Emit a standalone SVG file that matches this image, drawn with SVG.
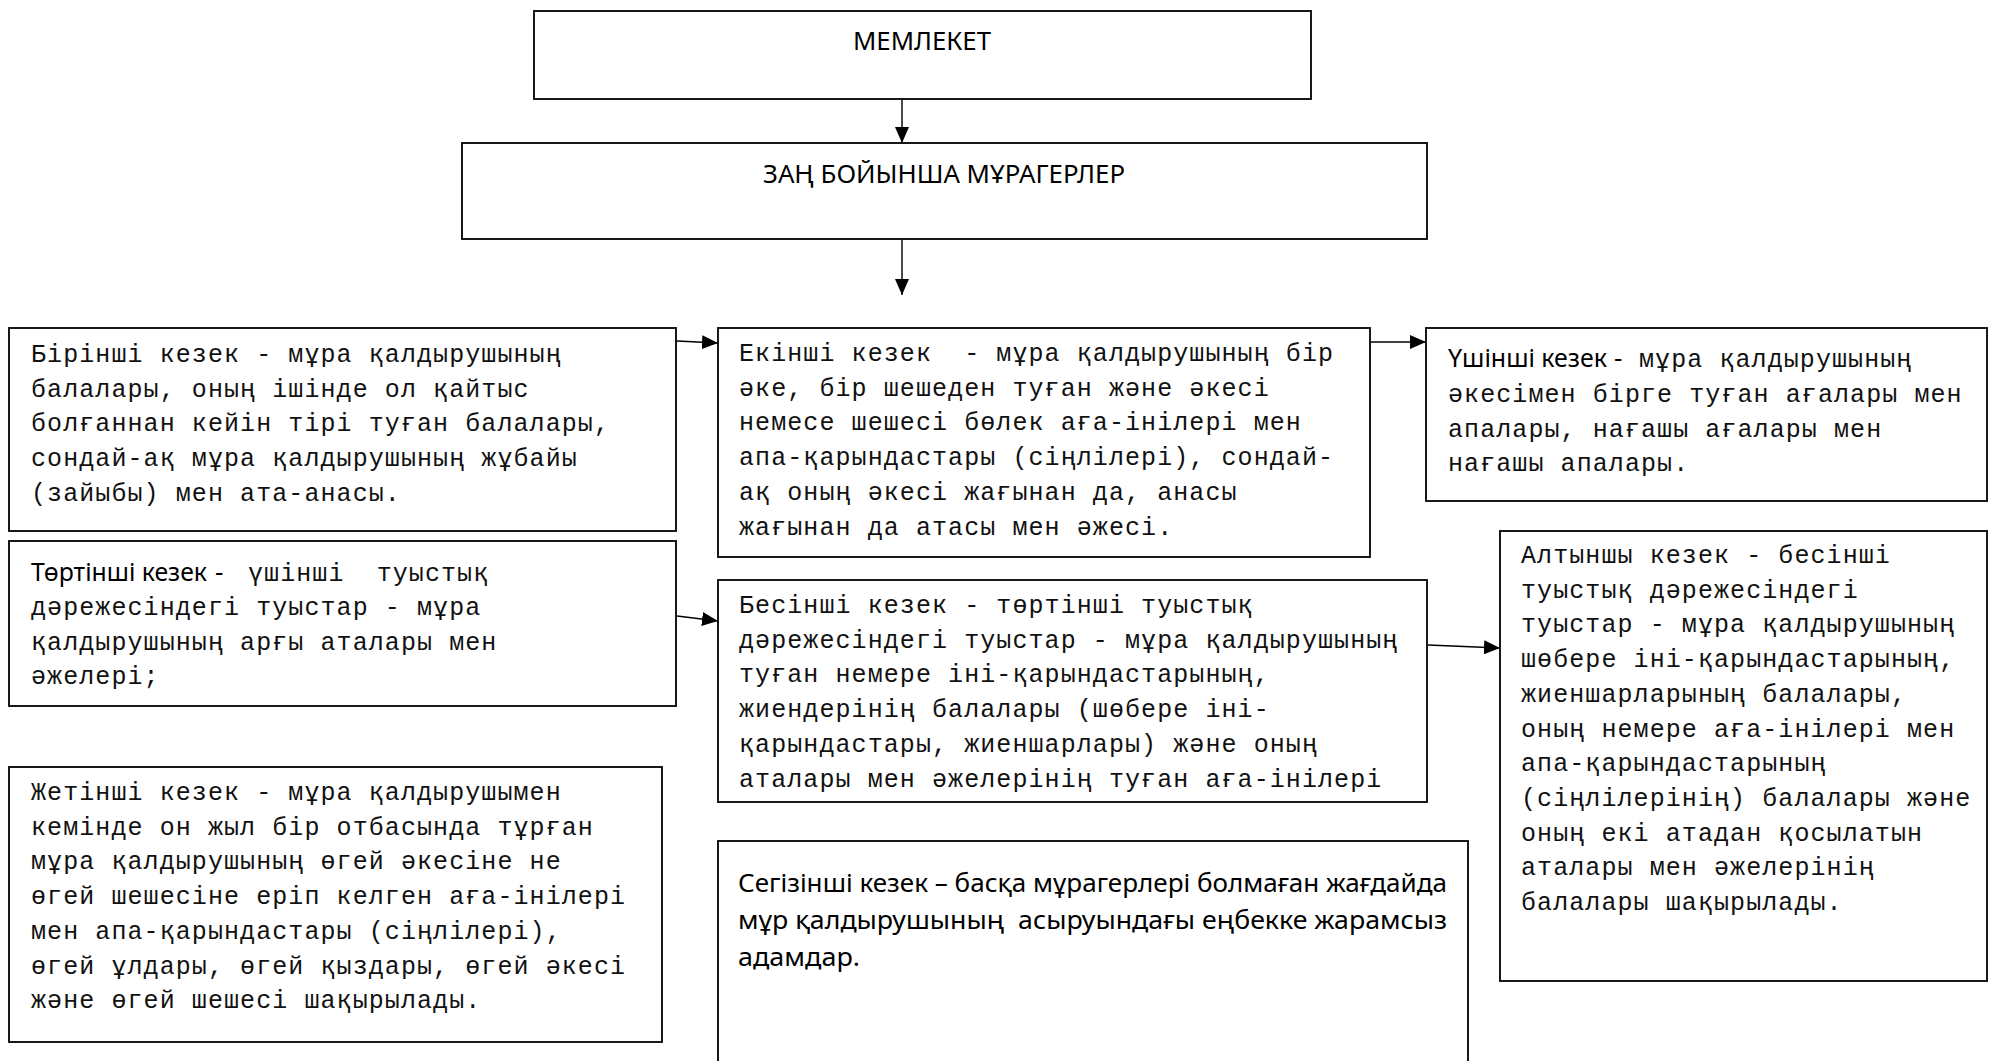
<svg xmlns="http://www.w3.org/2000/svg" width="1989" height="1061" viewBox="0 0 1989 1061">
<style>
.box{fill:#fff;stroke:#000;stroke-width:1.8}
.mono{font-family:"Liberation Mono","Courier New","DejaVu Sans Mono",monospace;font-size:25px;letter-spacing:1.08px;fill:#111}
.sans{font-family:"Noto Sans","Open Sans","DejaVu Sans",sans-serif;font-size:26px;fill:#000}
.conn{stroke:#000;stroke-width:1.4;fill:none}
</style>
<defs>
<marker id="ah" markerUnits="userSpaceOnUse" markerWidth="17" markerHeight="15" refX="16" refY="7" orient="auto">
<path d="M0,0 L16,7 L0,14 Z" fill="#000"/>
</marker>
</defs>
<rect width="1989" height="1061" fill="#fff"/>

<g id="connectors">
<line class="conn" x1="902" y1="100" x2="902" y2="143" marker-end="url(#ah)"/>
<line class="conn" x1="902" y1="240" x2="902" y2="295" marker-end="url(#ah)"/>
<line class="conn" x1="677" y1="341" x2="718" y2="343" marker-end="url(#ah)"/>
<line class="conn" x1="1371" y1="342" x2="1426" y2="342" marker-end="url(#ah)"/>
<line class="conn" x1="677" y1="616" x2="718" y2="621" marker-end="url(#ah)"/>
<line class="conn" x1="1428" y1="645" x2="1500" y2="648" marker-end="url(#ah)"/>
</g>

<g id="node-memleket">
<rect class="box" x="534" y="11" width="777" height="88"/>
<text class="sans" x="853" y="50" textLength="138" lengthAdjust="spacingAndGlyphs">МЕМЛЕКЕТ</text>
</g>

<g id="node-zan">
<rect class="box" x="462" y="143" width="965" height="96"/>
<text class="sans" x="763" y="183" textLength="362" lengthAdjust="spacingAndGlyphs">ЗАҢ БОЙЫНША МҰРАГЕРЛЕР</text>
</g>

<g id="node-1">
<rect class="box" x="9" y="328" width="667" height="203"/>
<text class="mono">
<tspan x="31" y="362">Бірінші кезек - мұра қалдырушының</tspan>
<tspan x="31" y="396.7">балалары, оның ішінде ол қайтыс</tspan>
<tspan x="31" y="431.4">болғаннан кейін тірі туған балалары,</tspan>
<tspan x="31" y="466.1">сондай-ақ мұра қалдырушының жұбайы</tspan>
<tspan x="31" y="500.8">(зайыбы) мен ата-анасы.</tspan>
</text>
</g>

<g id="node-2">
<rect class="box" x="718" y="328" width="652" height="229"/>
<text class="mono">
<tspan x="739" y="361" xml:space="preserve">Екінші кезек  - мұра қалдырушының бір</tspan>
<tspan x="739" y="395.7">әке, бір шешеден туған және әкесі</tspan>
<tspan x="739" y="430.4">немесе шешесі бөлек аға-інілері мен</tspan>
<tspan x="739" y="465.1">апа-қарындастары (сіңлілері), сондай-</tspan>
<tspan x="739" y="499.8">ақ оның әкесі жағынан да, анасы</tspan>
<tspan x="739" y="534.5">жағынан да атасы мен әжесі.</tspan>
</text>
</g>

<g id="node-3">
<rect class="box" x="1426" y="328" width="561" height="173"/>
<text class="sans" x="1448" y="367" textLength="159" lengthAdjust="spacingAndGlyphs">Үшінші кезек</text>
<text class="sans" x="1614" y="367">-</text>
<text class="mono">
<tspan x="1639" y="367">мұра қалдырушының</tspan>
<tspan x="1448" y="402">әкесімен бірге туған ағалары мен</tspan>
<tspan x="1448" y="436.7">апалары, нағашы ағалары мен</tspan>
<tspan x="1448" y="471.4">нағашы апалары.</tspan>
</text>
</g>

<g id="node-4">
<rect class="box" x="9" y="541" width="667" height="165"/>
<text class="sans" x="31" y="581" textLength="176" lengthAdjust="spacingAndGlyphs">Төртінші кезек</text>
<text class="sans" x="215" y="581">-</text>
<text class="mono">
<tspan x="248" y="581" xml:space="preserve">үшінші  туыстық</tspan>
<tspan x="31" y="615.3">дәрежесіндегі туыстар - мұра</tspan>
<tspan x="31" y="649.6">қалдырушының арғы аталары мен</tspan>
<tspan x="31" y="683.9">әжелері;</tspan>
</text>
</g>

<g id="node-5">
<rect class="box" x="718" y="580" width="709" height="222"/>
<text class="mono">
<tspan x="739" y="613">Бесінші кезек - төртінші туыстық</tspan>
<tspan x="739" y="647.7">дәрежесіндегі туыстар - мұра қалдырушының</tspan>
<tspan x="739" y="682.4">туған немере іні-қарындастарының,</tspan>
<tspan x="739" y="717.1">жиендерінің балалары (шөбере іні-</tspan>
<tspan x="739" y="751.8">қарындастары, жиеншарлары) және оның</tspan>
<tspan x="739" y="786.5">аталары мен әжелерінің туған аға-інілері</tspan>
</text>
</g>

<g id="node-6">
<rect class="box" x="1500" y="531" width="487" height="450"/>
<text class="mono">
<tspan x="1521" y="563">Алтыншы кезек - бесінші</tspan>
<tspan x="1521" y="597.7">туыстық дәрежесіндегі</tspan>
<tspan x="1521" y="632.4">туыстар - мұра қалдырушының</tspan>
<tspan x="1521" y="667.1">шөбере іні-қарындастарының,</tspan>
<tspan x="1521" y="701.8">жиеншарларының балалары,</tspan>
<tspan x="1521" y="736.5">оның немере аға-інілері мен</tspan>
<tspan x="1521" y="771.2">апа-қарындастарының</tspan>
<tspan x="1521" y="805.9">(сіңлілерінің) балалары және</tspan>
<tspan x="1521" y="840.6">оның екі атадан қосылатын</tspan>
<tspan x="1521" y="875.3">аталары мен әжелерінің</tspan>
<tspan x="1521" y="910">балалары шақырылады.</tspan>
</text>
</g>

<g id="node-7">
<rect class="box" x="9" y="767" width="653" height="275"/>
<text class="mono">
<tspan x="31" y="800">Жетінші кезек - мұра қалдырушымен</tspan>
<tspan x="31" y="834.7">кемінде он жыл бір отбасында тұрған</tspan>
<tspan x="31" y="869.4">мұра қалдырушының өгей әкесіне не</tspan>
<tspan x="31" y="904.1">өгей шешесіне еріп келген аға-інілері</tspan>
<tspan x="31" y="938.8">мен апа-қарындастары (сіңлілері),</tspan>
<tspan x="31" y="973.5">өгей ұлдары, өгей қыздары, өгей әкесі</tspan>
<tspan x="31" y="1008.2">және өгей шешесі шақырылады.</tspan>
</text>
</g>

<g id="node-8">
<rect class="box" x="718" y="841" width="750" height="240"/>
<text class="sans" x="738" y="892" textLength="709" lengthAdjust="spacingAndGlyphs">Сегізінші кезек – басқа мұрагерлері болмаған жағдайда</text>
<text class="sans" x="738" y="929" textLength="709" lengthAdjust="spacingAndGlyphs" xml:space="preserve">мұр қалдырушының  асыруындағы еңбекке жарамсыз</text>
<text class="sans" x="738" y="966" textLength="122" lengthAdjust="spacingAndGlyphs">адамдар.</text>
</g>
</svg>
